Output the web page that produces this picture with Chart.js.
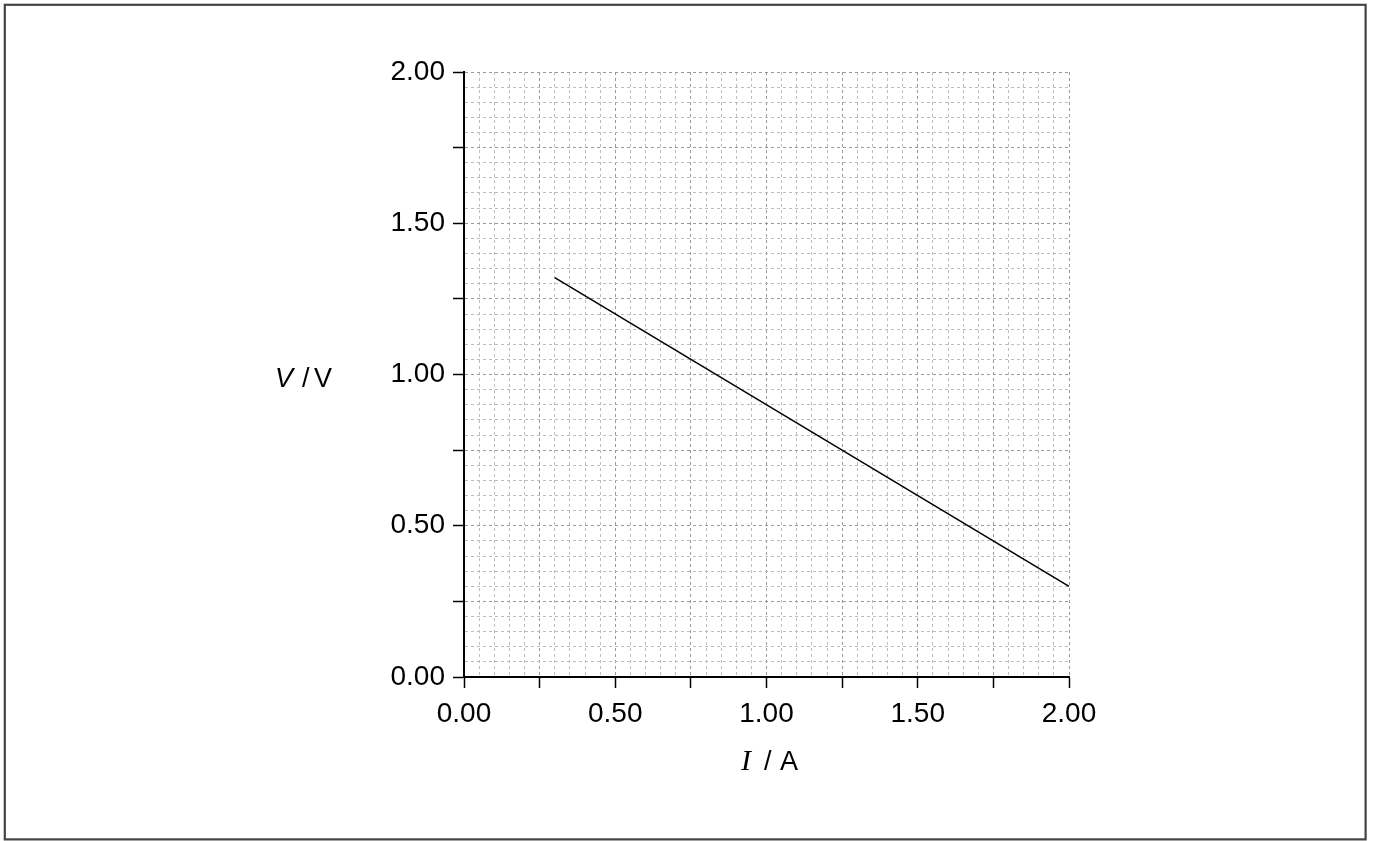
<!DOCTYPE html>
<html>
<head>
<meta charset="utf-8">
<script src="https://cdn.jsdelivr.net/npm/chart.js@4/dist/chart.umd.min.js"></script>
<style>
  html, body { margin: 0; padding: 0; background: #fff; }
  #wrap { position: absolute; left: 0; top: 0; width: 1373px; height: 841px; }
</style>
</head>
<body>
<div id="wrap"><canvas id="c" width="1373" height="841"></canvas></div>
<script>
// ---- data ----
const currentA = [0.30, 2.00];          // I / A
const voltageV = [1.32, 0.30];          // V / V
const axisMin = 0;
const axisMax = 2;
const gridStep = 0.05;
const tickMarkStep = 0.25;
const labelStep = 0.5;
const xTitleParts = ['I', '/', 'A'];
const yTitleParts = ['V', '/', 'V'];

function isMult(v, step) {
  const r = v / step;
  return Math.abs(r - Math.round(r)) < 1e-6;
}

const FONT = "'Liberation Sans', Arial, sans-serif";

function axisOpts(isX) {
  return {
    type: 'linear',
    min: axisMin,
    max: axisMax,
    offset: false,
    afterFit(scale) {
      if (isX) scale.height = 164; else scale.width = 464;
    },
    afterBuildTicks(scale) {
      const t = [];
      const n = Math.round((axisMax - axisMin) / gridStep);
      for (let i = 0; i <= n; i++) t.push({ value: +(axisMin + i * gridStep).toFixed(4) });
      scale.ticks = t;
    },
    ticks: {
      autoSkip: false,
      maxRotation: 0,
      minRotation: 0,
      padding: isX ? 9 : 8,
      color: '#000',
      font: { family: FONT, size: 28 },
      callback: (v) => isMult(v, labelStep) ? Number(v).toFixed(2) : ''
    },
    grid: {
      drawOnChartArea: true,
      drawTicks: true,
      tickLength: 11,
      lineWidth: 1,
      color: (ctx) => ctx.tick && isMult(ctx.tick.value, tickMarkStep) ? '#999999' : '#bdbdbd',
      tickColor: (ctx) => ctx.tick && isMult(ctx.tick.value, tickMarkStep) ? '#000' : 'rgba(0,0,0,0)',
      tickWidth: 1.5,
      tickBorderDash: []
    },
    border: {
      display: true,
      color: '#000',
      width: 2,
      dash: [3, 3]
    }
  };
}

const framePlugin = {
  id: 'frame',
  beforeDraw(chart) {
    const ctx = chart.ctx;
    ctx.save();
    ctx.fillStyle = '#fff';
    ctx.fillRect(0, 0, chart.width, chart.height);
    ctx.restore();
  },
  afterDraw(chart) {
    const ctx = chart.ctx;
    ctx.save();
    ctx.strokeStyle = '#444';
    ctx.lineWidth = 2.2;
    ctx.strokeRect(4.8, 4.8, 1360.8, 834.6);

    ctx.fillStyle = '#000';
    ctx.textBaseline = 'alphabetic';
    ctx.textAlign = 'left';
    // y title  "V / V"
    ctx.font = "italic 27px " + FONT;
    ctx.fillText(yTitleParts[0], 275, 387);
    ctx.font = "27px " + FONT;
    ctx.fillText(yTitleParts[1], 302, 387);
    ctx.fillText(yTitleParts[2], 314, 387);
    // x title  "I / A"
    ctx.font = "italic 30px 'Liberation Serif', 'Times New Roman', serif";
    ctx.fillText(xTitleParts[0], 741, 770);
    ctx.font = "27px " + FONT;
    ctx.fillText(xTitleParts[1], 764, 770);
    ctx.fillText(xTitleParts[2], 780, 770);
    ctx.restore();
  }
};

const points = currentA.map((v, i) => ({ x: v, y: voltageV[i] }));

new Chart(document.getElementById('c'), {
  type: 'scatter',
  data: {
    datasets: [{
      data: points,
      showLine: true,
      borderColor: '#000',
      borderWidth: 1.5,
      pointRadius: 0,
      fill: false
    }]
  },
  options: {
    responsive: false,
    animation: false,
    devicePixelRatio: 1,
    layout: { padding: { left: 0, top: 72, right: 304, bottom: 0 } },
    plugins: { legend: { display: false }, tooltip: { enabled: false } },
    scales: { x: axisOpts(true), y: axisOpts(false) }
  },
  plugins: [framePlugin]
});
</script>
</body>
</html>
